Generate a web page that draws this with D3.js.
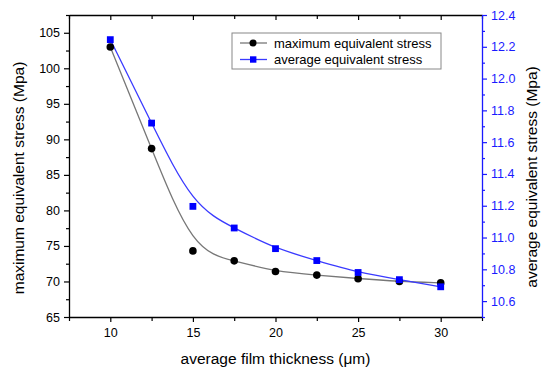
<!DOCTYPE html>
<html lang="en">
<head>
  <meta charset="UTF-8">
  <title>stress vs film thickness</title>
  <script src="https://d3js.org/d3.v7.min.js"></script>
  <style>
    body { margin: 0; background: #fff; }
    text { font-family: Arial, "Liberation Sans", sans-serif; }
  </style>
</head>
<body>
  <div id="root"></div>
  <script>
    // data
    const thickness = [10, 12.5, 15, 17.5, 20, 22.5, 25, 27.5, 30]
    const maxStress = [103.0, 88.7, 74.3, 72.9, 71.4, 70.9, 70.4, 70.0, 69.8]
    const avgStress = [12.245, 11.72, 11.196, 11.06, 10.93, 10.855, 10.78, 10.735, 10.69]
    const xTicks = [10, 15, 20, 25, 30]
    const leftTicks = [65, 70, 75, 80, 85, 90, 95, 100, 105]
    const rightTicks = [10.6, 10.8, 11.0, 11.2, 11.4, 11.6, 11.8, 12.0, 12.2, 12.4]
    const seriesNames = ['maximum equivalent stress', 'average equivalent stress']

    const W = 550, H = 376
    const m = { left: 69, right: 68, top: 15, bottom: 59 }
    const blue = '#1a1aff'

    const svg = d3.select('#root')
      .append('svg')
      .attr('width', W)
      .attr('height', H)

    const x = d3.scaleLinear().domain([7.5, 32.5]).range([m.left, W - m.right])
    const yL = d3.scaleLinear().domain([65, 107.5]).range([H - m.bottom, m.top])
    const yR = d3.scaleLinear().domain([10.5, 12.4]).range([H - m.bottom, m.top])

    // minor tick values
    const xMinor = d3.range(7.5, 32.6, 2.5).filter(v => !xTicks.includes(v))
    const lMinor = d3.range(67.5, 107.6, 5)
    const rMinor = d3.range(10.5, 12.45, 0.2).map(v => +v.toFixed(1))

    function styleAxis(g, color) {
      g.selectAll('path').attr('stroke', color).attr('stroke-width', 1.3)
      g.selectAll('line').attr('stroke', color).attr('stroke-width', 1.2)
      g.selectAll('text').attr('fill', color).style('font-size', '12.5px')
    }

    // bottom
    const gx = svg.append('g').attr('transform', `translate(0,${H - m.bottom})`)
    gx.call(d3.axisBottom(x).tickValues(xTicks).tickSize(5).tickSizeOuter(0).tickPadding(6))
    gx.append('g').call(d3.axisBottom(x).tickValues(xMinor).tickSize(4).tickFormat(''))
      .select('.domain').remove()
    styleAxis(gx, '#000')

    // top, ticks inward, no labels
    const gt = svg.append('g').attr('transform', `translate(0,${m.top})`)
    gt.call(d3.axisTop(x).tickValues(xTicks).tickSize(-5).tickSizeOuter(0).tickFormat(''))
    gt.append('g').call(d3.axisTop(x).tickValues(xMinor).tickSize(-4).tickFormat(''))
      .select('.domain').remove()
    styleAxis(gt, '#000')

    // left
    const gl = svg.append('g').attr('transform', `translate(${m.left},0)`)
    gl.call(d3.axisLeft(yL).tickValues(leftTicks).tickSize(5).tickSizeOuter(0).tickPadding(4))
    gl.append('g').call(d3.axisLeft(yL).tickValues(lMinor).tickSize(3).tickFormat(''))
      .select('.domain').remove()
    styleAxis(gl, '#000')

    // right
    const gr = svg.append('g').attr('transform', `translate(${W - m.right},0)`)
    gr.call(d3.axisRight(yR).tickValues(rightTicks).tickSize(5).tickSizeOuter(0).tickPadding(4)
      .tickFormat(d3.format('.1f')))
    gr.append('g').call(d3.axisRight(yR).tickValues(rMinor).tickSize(3).tickFormat(''))
      .select('.domain').remove()
    styleAxis(gr, blue)

    // smooth curves
    const maxPts = thickness.map((t, i) => [t, maxStress[i]])
    const avgPts = thickness.map((t, i) => [t, avgStress[i]])

    svg.append('path')
      .attr('d', d3.line().x(d => x(d[0])).y(d => yL(d[1])).curve(d3.curveBasis)(maxPts))
      .attr('fill', 'none').attr('stroke', '#777').attr('stroke-width', 1.3)

    svg.append('path')
      .attr('d', d3.line().x(d => x(d[0])).y(d => yR(d[1])).curve(d3.curveBasis)(avgPts))
      .attr('fill', 'none').attr('stroke', '#3a3aff').attr('stroke-width', 1.3)

    svg.selectAll('.dot').data(maxPts).join('circle')
      .attr('cx', d => x(d[0])).attr('cy', d => yL(d[1])).attr('r', 3.8).attr('fill', '#000')

    svg.selectAll('.sq').data(avgPts).join('rect')
      .attr('x', d => x(d[0]) - 3.4).attr('y', d => yR(d[1]) - 3.4)
      .attr('width', 6.8).attr('height', 6.8).attr('fill', '#0000ff')

    // legend
    const lg = svg.append('g').attr('transform', 'translate(232,33)')
    lg.append('rect').attr('width', 209).attr('height', 36)
      .attr('fill', '#fff').attr('stroke', '#888').attr('stroke-width', 1)
    seriesNames.forEach((name, i) => {
      const cy = 10 + i * 16.5
      const col = i === 0 ? '#777' : '#3a3aff'
      lg.append('line').attr('x1', 8).attr('x2', 35).attr('y1', cy).attr('y2', cy)
        .attr('stroke', col).attr('stroke-width', 1.3)
      if (i === 0) lg.append('circle').attr('cx', 21).attr('cy', cy).attr('r', 3.5).attr('fill', '#000')
      else lg.append('rect').attr('x', 18).attr('y', cy - 3.2).attr('width', 6.4).attr('height', 6.4).attr('fill', '#0000ff')
      lg.append('text').attr('x', 42).attr('y', cy).attr('dy', '0.35em')
        .style('font-size', '13px').attr('fill', '#000').text(name)
    })

    // axis titles
    svg.append('text').attr('x', (m.left + W - m.right) / 2).attr('y', 364)
      .attr('text-anchor', 'middle').style('font-size', '15.5px').text('average film thickness (μm)')
    svg.append('text').attr('transform', 'translate(24,178) rotate(-90)')
      .attr('text-anchor', 'middle').style('font-size', '15.5px').text('maximum equivalent stress (Mpa)')
    svg.append('text').attr('transform', 'translate(537,177) rotate(-90)')
      .attr('text-anchor', 'middle').style('font-size', '15.5px').text('average equivalent stress (Mpa)')
  </script>
</body>
</html>
